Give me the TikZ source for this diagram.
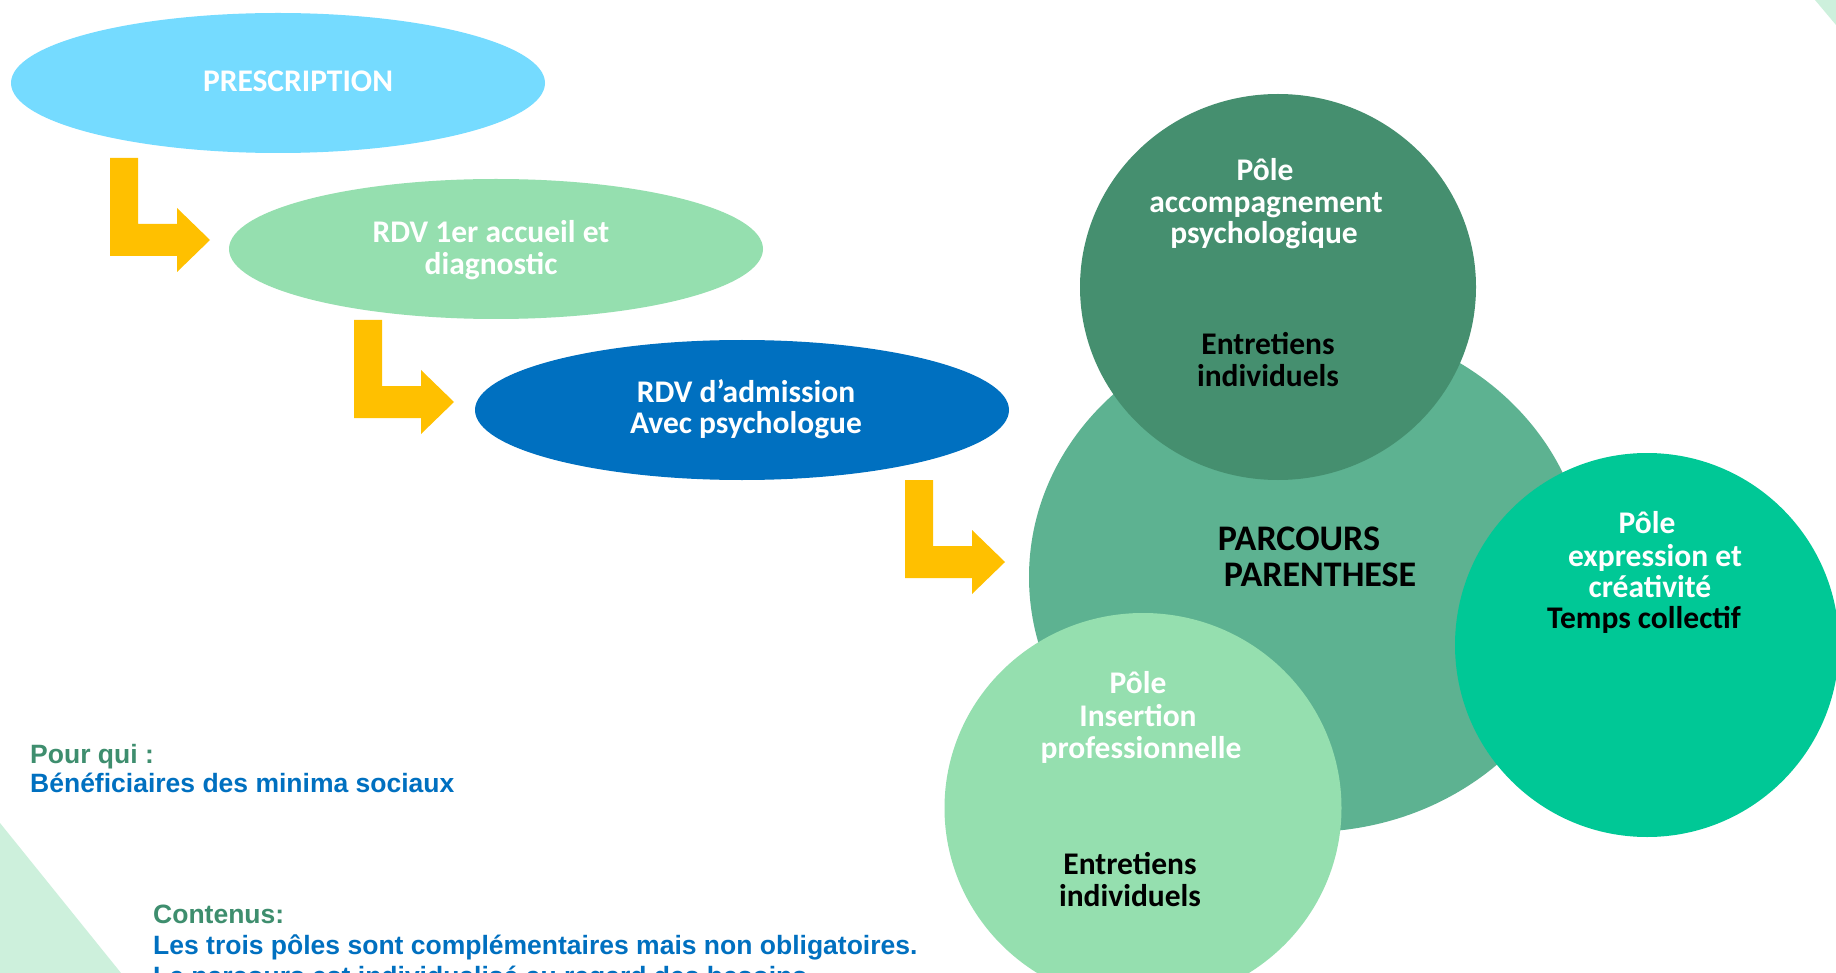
\documentclass[tikz,border=0pt]{standalone}
\usepackage{fontspec}
\setmainfont{Carlito}
\newfontfamily\arialfont{Liberation Sans}
\usetikzlibrary{shapes.geometric}
\definecolor{cPresc}{HTML}{75DBFF}
\definecolor{cLight}{HTML}{95DFAF}
\definecolor{cBlue}{HTML}{0070C0}
\definecolor{cYellow}{HTML}{FFC000}
\definecolor{cDark}{HTML}{458F6F}
\definecolor{cMid}{HTML}{5DB291}
\definecolor{cBright}{HTML}{00C896}
\definecolor{cTri}{HTML}{CDF0DC}
\definecolor{cTxtGreen}{HTML}{3E8E6E}
\tikzset{
  blob/.style={ellipse, inner sep=0pt, draw=none},
  wtxt/.style={anchor=base, inner sep=0pt, text=white, font=\bfseries\fontsize{31.5}{32}\selectfont},
  btxt/.style={anchor=base, inner sep=0pt, text=black, font=\bfseries\fontsize{31.5}{32}\selectfont},
  bigtxt/.style={anchor=base, inner sep=0pt, text=black, font=\bfseries\fontsize{36}{36}\selectfont},
  lefttxt/.style={anchor=base west, inner sep=0pt, font=\arialfont\bfseries\fontsize{26.5}{29}\selectfont},
  bentarrow/.style={fill=cYellow},
}
\begin{document}
\begin{tikzpicture}[x=1pt,y=-1pt]
\clip (0,0) rectangle (1836,973);
\fill[white] (0,0) rectangle (1836,973);
% background triangles
\fill[cTri] (0,823) -- (121,973) -- (0,973) -- cycle;
\fill[cTri] (1815,0) -- (1836,0) -- (1836,25) -- cycle;
% bent arrows
\foreach \ox/\oy in {110/158, 354/320, 905/480}{
  \fill[bentarrow, shift={(\ox,\oy)}] (0,0) -- (28,0) -- (28,66) -- (67,66) -- (67,50) -- (100,82) -- (67,114) -- (67,98) -- (0,98) -- cycle;
}
% ellipses
\node[blob, fill=cPresc, minimum width=534pt, minimum height=140pt] (presc) at (278,83) {};
\node[blob, fill=cLight, minimum width=534pt, minimum height=140pt] (rdv1) at (496,249) {};
\node[blob, fill=cBlue, minimum width=534pt, minimum height=140pt] (rdv2) at (742,410) {};
\node[wtxt] (prescT) at (298,92) {PRESCRIPTION};
\node[wtxt] (rdv1a) at (491,243) {RDV 1er accueil et};
\node[wtxt] (rdv1b) at (491,275) {diagnostic};
\node[wtxt] (rdv2a) at (746,402) {RDV d’admission};
\node[wtxt] (rdv2b) at (746,433) {Avec psychologue};
% circles
\node[blob, fill=cMid, minimum width=558pt, minimum height=510pt] (big) at (1308,577) {};
\node[blob, fill=cDark, minimum width=396pt, minimum height=386pt] (psy) at (1278,287) {};
\node[blob, fill=cBright, minimum width=384pt, minimum height=384pt] (expr) at (1647,645) {};
\node[blob, fill=cLight, minimum width=397pt, minimum height=390pt] (ins) at (1143,808) {};
% texts in circles
\node[wtxt] (psy1) at (1265,181) {Pôle};
\node[wtxt] (psy2) at (1266,213) {accompagnement};
\node[wtxt] (psy3) at (1264,244) {psychologique};
\node[btxt] (psy4) at (1268,355) {Entretiens};
\node[btxt] (psy5) at (1268,386) {individuels};
\node[bigtxt] (big1) at (1299,550) {PARCOURS};
\node[bigtxt] (big2) at (1320,586) {PARENTHESE};
\node[wtxt] (expr1) at (1647,533) {Pôle};
\node[wtxt] (expr2) at (1655,566) {expression et};
\node[wtxt] (expr3) at (1650,597) {créativité};
\node[btxt] (expr4) at (1644,628) {Temps collectif};
\node[wtxt] (ins1) at (1138,693) {Pôle};
\node[wtxt] (ins2) at (1138,726) {Insertion};
\node[wtxt] (ins3) at (1141,758) {professionnelle};
\node[btxt] (ins4) at (1130,874) {Entretiens};
\node[btxt] (ins5) at (1130,906) {individuels};
% left texts
\node[lefttxt, text=cTxtGreen] (pq1) at (30,763) {Pour qui :};
\node[lefttxt, text=cBlue] (pq2) at (30,792) {Bénéficiaires des minima sociaux};
\node[lefttxt, text=cTxtGreen] (ct1) at (153,923) {Contenus:};
\node[lefttxt, text=cBlue] (ct2) at (153,954) {Les trois pôles sont complémentaires mais non obligatoires.};
\node[lefttxt, text=cBlue] (ct3) at (153,985) {Le parcours est individualisé au regard des besoins.};
\end{tikzpicture}
\end{document}
